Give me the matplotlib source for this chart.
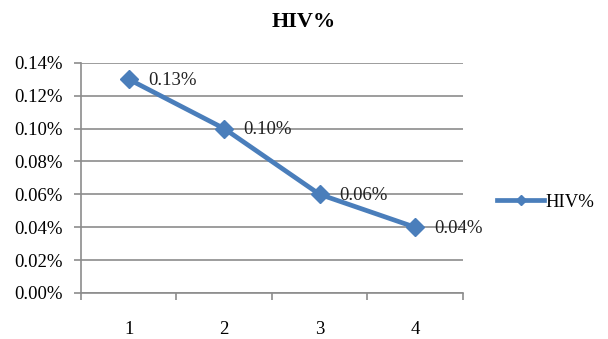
import matplotlib.pyplot as plt
from matplotlib.ticker import FuncFormatter, FixedLocator

categories = ['1', '2', '3', '4']
hiv_pct = [0.13, 0.10, 0.06, 0.04]
y_ticks = [0.00, 0.02, 0.04, 0.06, 0.08, 0.10, 0.12, 0.14]

plt.rcParams['font.family'] = ['Liberation Serif', 'DejaVu Serif']
blue = '#4a7ebb'
grid = '#8c8c8c'
fs = 13.5

fig = plt.figure(figsize=(6.08, 3.39), dpi=100)
ax = fig.add_axes([0.1332, 0.1357, 0.628, 0.679])

x = list(range(1, len(categories) + 1))
ax.plot(x, hiv_pct, color=blue, lw=3.4, marker='D', ms=9, label='HIV%')
for xi, v in zip(x, hiv_pct):
    ax.annotate(f'{v:.2f}%', (xi, v), xytext=(14, -1), textcoords='offset points',
                ha='left', va='center', fontsize=fs, color='#222222')

ax.set_xlim(0.5, len(categories) + 0.5)
ax.set_ylim(0, 0.14)
ax.set_yticks(y_ticks)
ax.yaxis.set_major_formatter(FuncFormatter(lambda v, p: f'{v:.2f}%'))
ax.yaxis.grid(True, color=grid, lw=1.2)
ax.set_axisbelow(True)

# boundaries between categories carry the tick marks, labels sit in between
ax.xaxis.set_major_locator(FixedLocator([i + 0.5 for i in range(len(categories) + 1)]))
ax.xaxis.set_major_formatter(FuncFormatter(lambda v, p: ''))
ax.xaxis.set_minor_locator(FixedLocator(x))
ax.set_xticklabels(categories, minor=True)
ax.tick_params(axis='x', which='major', length=5, color=grid, width=1.2)
ax.tick_params(axis='x', which='minor', length=0, pad=20, labelsize=fs)
ax.tick_params(axis='y', length=5, color=grid, width=1.2, labelsize=fs, pad=8)

for s in ['top', 'right']:
    ax.spines[s].set_visible(False)
for s in ['left', 'bottom']:
    ax.spines[s].set_color(grid)
    ax.spines[s].set_linewidth(1.2)

fig.suptitle('HIV%', x=0.5, y=0.965, fontsize=16, fontweight='bold')
ax.legend(loc='center left', bbox_to_anchor=(1.09, 0.395), frameon=False,
          borderaxespad=0, borderpad=0, fontsize=fs, handlelength=2.5,
          handletextpad=0.1, markerscale=0.6)

fig.savefig('out.png', dpi=100)
